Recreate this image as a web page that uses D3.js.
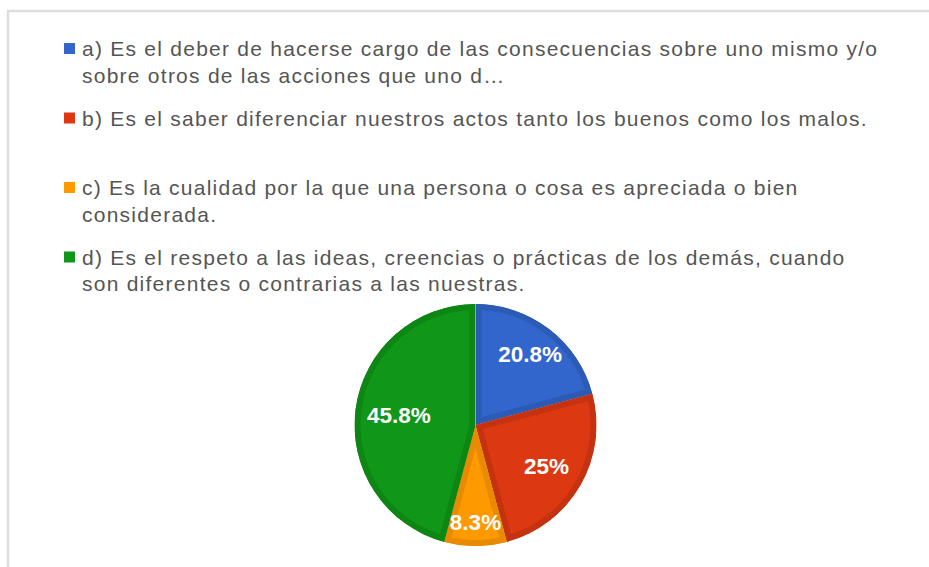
<!DOCTYPE html>
<html>
<head>
<meta charset="utf-8">
<script src="https://cdn.jsdelivr.net/npm/d3@7"></script>
<style>
  body { margin: 0; background: #fff; }
  svg { display: block; font-family: Arial, "Liberation Sans", sans-serif; }
</style>
</head>
<body>
<svg id="chart"></svg>
<script>
// answers (legend lines as shown), counts out of 24 responses
const answers = [
    ["a) Es el deber de hacerse cargo de las consecuencias sobre uno mismo y/o",
     "sobre otros de las acciones que uno d\u2026"],
    ["b) Es el saber diferenciar nuestros actos tanto los buenos como los malos."],
    ["c) Es la cualidad por la que una persona o cosa es apreciada o bien",
     "considerada."],
    ["d) Es el respeto a las ideas, creencias o prácticas de los demás, cuando",
     "son diferentes o contrarias a las nuestras."]
];
const counts = [5, 6, 2, 11];
const fillColors = ["#3366cc", "#dc3912", "#ff9900", "#109618"];
const edgeColors = ["#2c5bb6", "#c4320f", "#e88b00", "#0d8614"];

const width = 929, height = 567;
const svg = d3.select("#chart").attr("width", width).attr("height", height);

// frame
svg.append("path")
    .attr("d", `M8,${height} V11 H${width}`)
    .attr("fill", "none")
    .attr("stroke", "#dedede")
    .attr("stroke-width", 2.5);

// legend
let legend = svg.append("g").attr("transform", "translate(64, 0)");
let entryY = d3.scaleLinear().domain([0, 1]).range([56, 125.5]);

answers.forEach((lines, i) => {
    let g = legend.append("g").attr("transform", `translate(0, ${entryY(i)})`);
    g.append("rect")
        .attr("x", 0)
        .attr("y", -13)
        .attr("width", 11)
        .attr("height", 11)
        .attr("fill", fillColors[i]);
    lines.forEach((line, j) => {
        g.append("text")
            .attr("x", 18)
            .attr("y", j * 26.5)
            .attr("fill", "#555")
            .style("font-size", "21px")
            .style("letter-spacing", "1.25px")
            .text(line);
    });
});

// pie
const cx = 475.5, cy = 425, radius = 121;
let pie = d3.pie().sort(null).value(d => d);
let arc = d3.arc().innerRadius(0).outerRadius(radius);
let total = d3.sum(counts);
let fmt = d3.format(".1~f");

let pg = svg.append("g").attr("transform", `translate(${cx}, ${cy})`);
let defs = svg.append("defs");

pie(counts).forEach((a, i) => {
    defs.append("clipPath")
        .attr("id", "slice" + i)
        .append("path")
        .attr("d", arc(a));
    pg.append("path")
        .attr("d", arc(a))
        .attr("fill", fillColors[i])
        .attr("stroke", edgeColors[i])
        .attr("stroke-width", 12)
        .attr("clip-path", `url(#slice${i})`);
});

pie(counts).forEach((a, i) => {
    let mid = (a.startAngle + a.endAngle) / 2;
    // labels sit closer in for slices pointing sideways
    let d = 97 - 20 * Math.pow(Math.sin(mid), 2);
    pg.append("text")
        .attr("x", d * Math.sin(mid))
        .attr("y", -d * Math.cos(mid))
        .attr("dy", "0.36em")
        .attr("text-anchor", "middle")
        .attr("fill", "#fff")
        .style("font-size", "22.5px")
        .style("font-weight", "bold")
        .text(fmt(counts[i] / total * 100) + "%");
});
</script>
</body>
</html>
